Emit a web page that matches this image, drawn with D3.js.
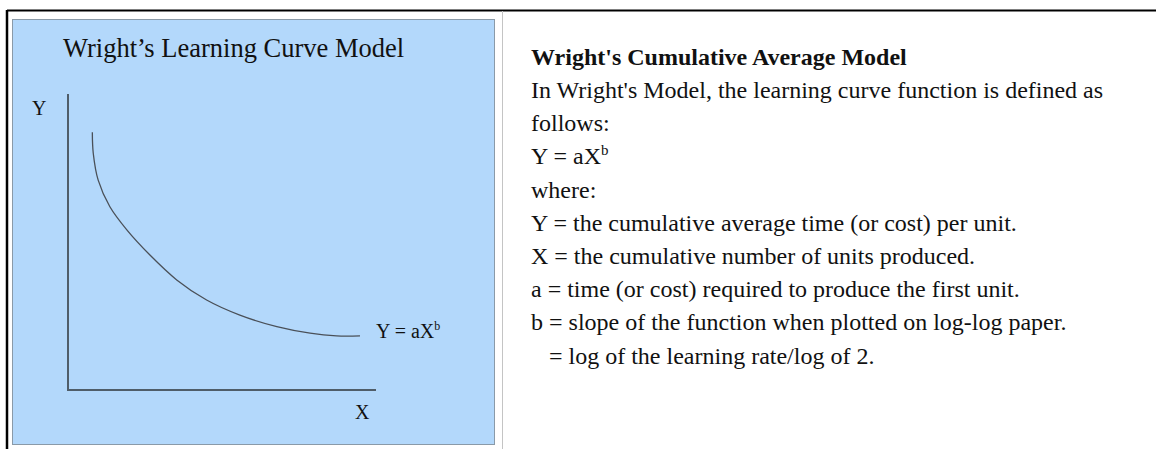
<!DOCTYPE html>
<html>
<head>
<meta charset="utf-8">
<script src="https://cdn.jsdelivr.net/npm/d3@7"></script>
<style>
  html, body { margin: 0; padding: 0; background: #ffffff; }
  svg { display: block; }
</style>
</head>
<body>
<svg id="chart" width="1156" height="449"></svg>
<script>
// ---- data (axis units 0..10) ----
const curveX = [0.79, 0.82, 0.98, 1.36, 1.91, 2.66, 3.53, 4.50, 5.58, 6.78, 7.86, 8.72, 9.48];
const curveY = [8.71, 8.00, 7.09, 6.19, 5.41, 4.56, 3.72, 3.04, 2.53, 2.14, 1.92, 1.83, 1.83];
const chartTitle = "Wright\u2019s Learning Curve Model";
const axisLabelX = "X";
const axisLabelY = "Y";
const curveLabel = ["Y = aX", "b"];
const noteTitle = "Wright's Cumulative Average Model";
const noteLines = [
  ["In Wright's Model, the learning curve function is defined as"],
  ["follows:"],
  ["Y = aX", "b"],
  ["where:"],
  ["Y = the cumulative average time (or cost) per unit."],
  ["X = the cumulative number of units produced."],
  ["a = time (or cost) required to produce the first unit."],
  ["b = slope of the function when plotted on log-log paper."],
  ["   = log of the learning rate/log of 2."]
];

const svg = d3.select("#chart");
const serif = "'Liberation Serif', 'Times New Roman', serif";

// frame lines
svg.append("line").attr("x1", 7).attr("x2", 1156).attr("y1", 10.5).attr("y2", 10.5)
  .attr("stroke", "#000").attr("stroke-width", 2);
svg.append("line").attr("x1", 7).attr("x2", 7).attr("y1", 10).attr("y2", 449)
  .attr("stroke", "#000").attr("stroke-width", 2.5);
svg.append("line").attr("x1", 502.5).attr("x2", 502.5).attr("y1", 11).attr("y2", 449)
  .attr("stroke", "#c4c4c4").attr("stroke-width", 1);

// blue panel
svg.append("rect").attr("x", 12.5).attr("y", 19.5).attr("width", 482).attr("height", 425)
  .attr("fill", "#b3d8fb").attr("stroke", "#8a9aa8").attr("stroke-width", 1);

// scales
const x = d3.scaleLinear().domain([0, 10]).range([68, 376]);
const y = d3.scaleLinear().domain([0, 10]).range([390, 94]);

// axes (plain lines, no ticks)
const g = svg.append("g");
g.append("line").attr("x1", x(0)).attr("x2", x(0)).attr("y1", y(10)).attr("y2", y(0))
  .attr("stroke", "#4f5d69").attr("stroke-width", 2);
g.append("line").attr("x1", x(0) - 1).attr("x2", x(10)).attr("y1", y(0)).attr("y2", y(0))
  .attr("stroke", "#4f5d69").attr("stroke-width", 2);

// curve
const pts = curveX.map((d, i) => [d, curveY[i]]);
const line = d3.line().x(d => x(d[0])).y(d => y(d[1])).curve(d3.curveCatmullRom.alpha(0.5));
g.append("path").datum(pts).attr("d", line)
  .attr("fill", "none").attr("stroke", "#4a5058").attr("stroke-width", 1.3);

// title and labels
svg.append("text").attr("x", 63).attr("y", 57).text(chartTitle)
  .attr("font-family", serif).attr("font-size", 26.5).attr("fill", "#111");
svg.append("text").attr("x", 32).attr("y", 115).text(axisLabelY)
  .attr("font-family", serif).attr("font-size", 20).attr("fill", "#111");
svg.append("text").attr("x", 355).attr("y", 419).text(axisLabelX)
  .attr("font-family", serif).attr("font-size", 20).attr("fill", "#111");
const cl = svg.append("text").attr("x", 376).attr("y", 338)
  .attr("font-family", serif).attr("font-size", 20).attr("fill", "#111");
cl.append("tspan").text(curveLabel[0]);
cl.append("tspan").text(curveLabel[1]).attr("font-size", 12).attr("dy", -8);

// right-hand notes
const tx = 531;
svg.append("text").attr("x", tx).attr("y", 65).text(noteTitle)
  .attr("font-family", serif).attr("font-size", 24).attr("font-weight", "bold").attr("fill", "#111");
noteLines.forEach((parts, i) => {
  const t = svg.append("text").attr("x", tx).attr("y", 98 + i * 33.2)
    .attr("font-family", serif).attr("font-size", 24).attr("fill", "#111")
    .attr("xml:space", "preserve").style("white-space", "pre");
  t.append("tspan").text(parts[0]);
  if (parts[1]) t.append("tspan").text(parts[1]).attr("font-size", 15).attr("dy", -9);
});
</script>
</body>
</html>
